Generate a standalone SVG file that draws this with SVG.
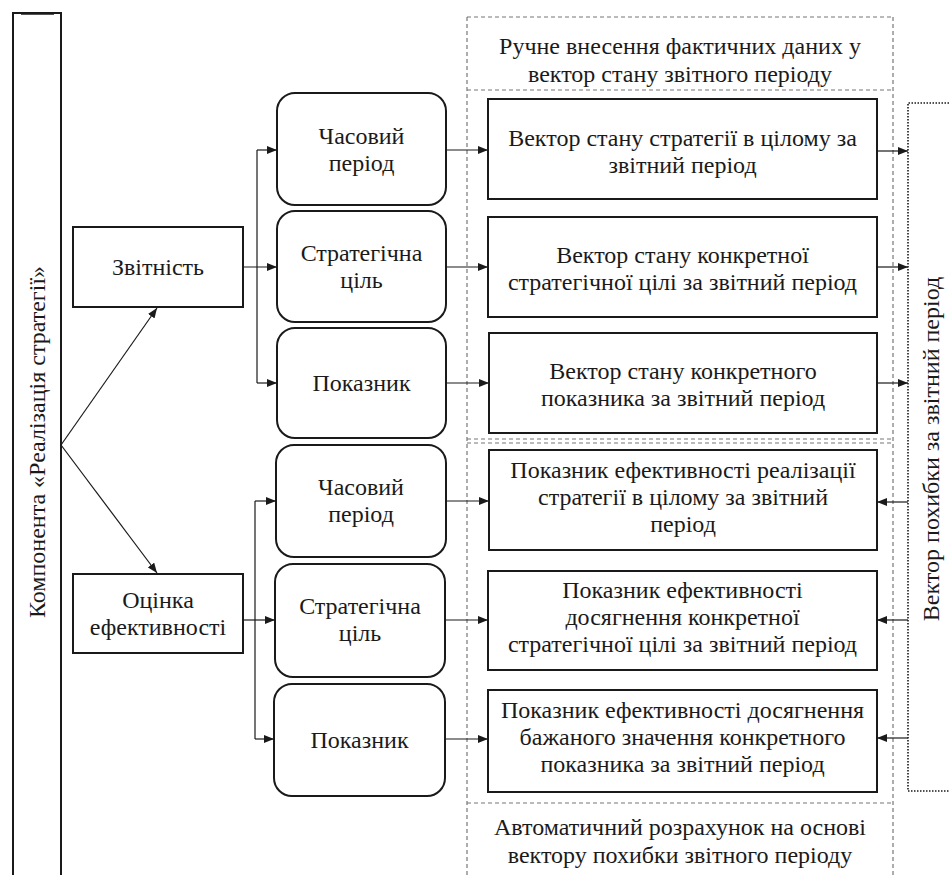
<svg xmlns="http://www.w3.org/2000/svg" width="949" height="875" viewBox="0 0 949 875">
<style>
  text { font-family: "Liberation Serif", "DejaVu Serif", "Times New Roman", serif; font-size: 24px; fill: #1a1a1a; text-anchor: middle; }
  .box { fill: #ffffff; stroke: #1a1a1a; stroke-width: 2; }
  .rbox { fill: #ffffff; stroke: #1a1a1a; stroke-width: 2; }
  .conn { fill: none; stroke: #1a1a1a; stroke-width: 1.2; }
  .dash { fill: none; stroke: #777777; stroke-width: 1.2; stroke-dasharray: 4 3; }
  .dot { fill: none; stroke: #1a1a1a; stroke-width: 1.6; stroke-dasharray: 1.5 1.5; }
</style>
<defs>
  <marker id="arr" viewBox="0 0 10 8" refX="10" refY="4" markerWidth="10" markerHeight="8" markerUnits="userSpaceOnUse" orient="auto">
    <path d="M0,0 L10,4 L0,8 z" fill="#1a1a1a"/>
  </marker>
</defs>
<rect width="949" height="875" fill="#ffffff"/>

<!-- dashed regions -->
<g id="regions">
  <line class="dash" x1="467" y1="17" x2="893" y2="17"/>
  <line class="dash" x1="467" y1="90" x2="893" y2="90"/>
  <line class="dash" x1="467" y1="439" x2="893" y2="439"/>
  <line class="dash" x1="467" y1="443" x2="893" y2="443"/>
  <line class="dash" x1="467" y1="803" x2="893" y2="803"/>
  <line class="dash" x1="467" y1="17" x2="467" y2="875"/>
  <line class="dash" x1="893" y1="17" x2="893" y2="875"/>
</g>

<g id="header-top">
  <text x="680" y="54">Ручне внесення фактичних даних у</text>
  <text x="680" y="82">вектор стану звітного періоду</text>
</g>
<g id="header-bottom">
  <text x="680" y="835">Автоматичний розрахунок на основі</text>
  <text x="680" y="863">вектору похибки звітного періоду</text>
</g>

<!-- left component -->
<g id="component">
  <path d="M13,875 V13 H61 V875" fill="none" stroke="#1a1a1a" stroke-width="2"/>
  <line x1="21" y1="13.5" x2="54" y2="13.5" stroke="#1a1a1a" stroke-width="2.5"/>
  <text transform="translate(45,442) rotate(-90)">Компонента «Реалізація стратегії»</text>
</g>

<!-- right error vector -->
<g id="error-vector">
  <path d="M949,103 H908 V791 H949" class="dot"/>
  <text transform="translate(939,449) rotate(-90)">Вектор похибки за звітний період</text>
</g>

<g id="zvitnist">
  <rect class="box" x="73" y="227" width="170" height="80"/>
  <text x="158" y="275">Звітність</text>
</g>
<g id="otsinka">
  <rect class="box" x="73" y="574" width="170" height="79"/>
  <text x="158" y="608">Оцінка</text>
  <text x="158" y="635">ефективності</text>
</g>

<!-- rounded boxes -->
<g id="t-period">
  <rect class="rbox" x="277" y="93" width="169" height="112" rx="18"/>
  <text x="361.5" y="144">Часовий</text>
  <text x="361.5" y="171">період</text>
</g>
<g id="t-goal">
  <rect class="rbox" x="277" y="211" width="169" height="111" rx="18"/>
  <text x="361.5" y="261">Стратегічна</text>
  <text x="361.5" y="288">ціль</text>
</g>
<g id="t-indicator">
  <rect class="rbox" x="277" y="328" width="169" height="110" rx="18"/>
  <text x="361.5" y="391">Показник</text>
</g>
<g id="b-period">
  <rect class="rbox" x="276" y="445" width="170" height="112" rx="18"/>
  <text x="361" y="495">Часовий</text>
  <text x="361" y="522">період</text>
</g>
<g id="b-goal">
  <rect class="rbox" x="275" y="564" width="170" height="113" rx="18"/>
  <text x="360" y="614">Стратегічна</text>
  <text x="360" y="641">ціль</text>
</g>
<g id="b-indicator">
  <rect class="rbox" x="274" y="684" width="171" height="112" rx="18"/>
  <text x="359.5" y="748">Показник</text>
</g>

<!-- right boxes -->
<g id="r1">
  <rect class="box" x="488" y="99" width="389" height="100"/>
  <text x="682.5" y="146">Вектор стану стратегії в цілому за</text>
  <text x="682.5" y="173">звітний період</text>
</g>
<g id="r2">
  <rect class="box" x="488" y="217" width="389" height="100"/>
  <text x="682.5" y="263">Вектор стану конкретної</text>
  <text x="682.5" y="290">стратегічної цілі за звітний період</text>
</g>
<g id="r3">
  <rect class="box" x="489" y="333" width="388" height="100"/>
  <text x="683" y="379">Вектор стану конкретного</text>
  <text x="683" y="406">показника за звітний період</text>
</g>
<g id="r4">
  <rect class="box" x="489" y="450" width="388" height="100"/>
  <text x="683" y="478">Показник ефективності реалізації</text>
  <text x="683" y="505">стратегії в цілому за звітний</text>
  <text x="683" y="532">період</text>
</g>
<g id="r5">
  <rect class="box" x="488" y="571" width="389" height="99"/>
  <text x="682.5" y="598">Показник ефективності</text>
  <text x="682.5" y="625">досягнення конкретної</text>
  <text x="682.5" y="652">стратегічної цілі за звітний період</text>
</g>
<g id="r6">
  <rect class="box" x="488" y="690" width="389" height="102"/>
  <text x="682.5" y="718">Показник ефективності досягнення</text>
  <text x="682.5" y="745">бажаного значення конкретного</text>
  <text x="682.5" y="772">показника за звітний період</text>
</g>

<!-- connectors -->
<g id="connectors">
  <path class="conn" d="M61,445 L157,308" marker-end="url(#arr)"/>
  <path class="conn" d="M61,445 L157,573" marker-end="url(#arr)"/>

  <path class="conn" d="M243,267 H277" marker-end="url(#arr)"/>
  <path class="conn" d="M257,150 V383"/>
  <path class="conn" d="M257,150 H277" marker-end="url(#arr)"/>
  <path class="conn" d="M257,383 H277" marker-end="url(#arr)"/>

  <path class="conn" d="M243,620 H275" marker-end="url(#arr)"/>
  <path class="conn" d="M255,501 V739"/>
  <path class="conn" d="M255,501 H276" marker-end="url(#arr)"/>
  <path class="conn" d="M255,739 H274" marker-end="url(#arr)"/>

  <path class="conn" d="M446,150 H488" marker-end="url(#arr)"/>
  <path class="conn" d="M446,267 H488" marker-end="url(#arr)"/>
  <path class="conn" d="M446,383 H489" marker-end="url(#arr)"/>
  <path class="conn" d="M446,501 H489" marker-end="url(#arr)"/>
  <path class="conn" d="M445,620 H488" marker-end="url(#arr)"/>
  <path class="conn" d="M445,739 H488" marker-end="url(#arr)"/>

  <path class="conn" d="M877,151 H908" marker-end="url(#arr)"/>
  <path class="conn" d="M877,267 H908" marker-end="url(#arr)"/>
  <path class="conn" d="M877,383 H908" marker-end="url(#arr)"/>
  <path class="conn" d="M908,502 H877" marker-end="url(#arr)"/>
  <path class="conn" d="M908,620 H877" marker-end="url(#arr)"/>
  <path class="conn" d="M908,738 H877" marker-end="url(#arr)"/>
</g>
</svg>
